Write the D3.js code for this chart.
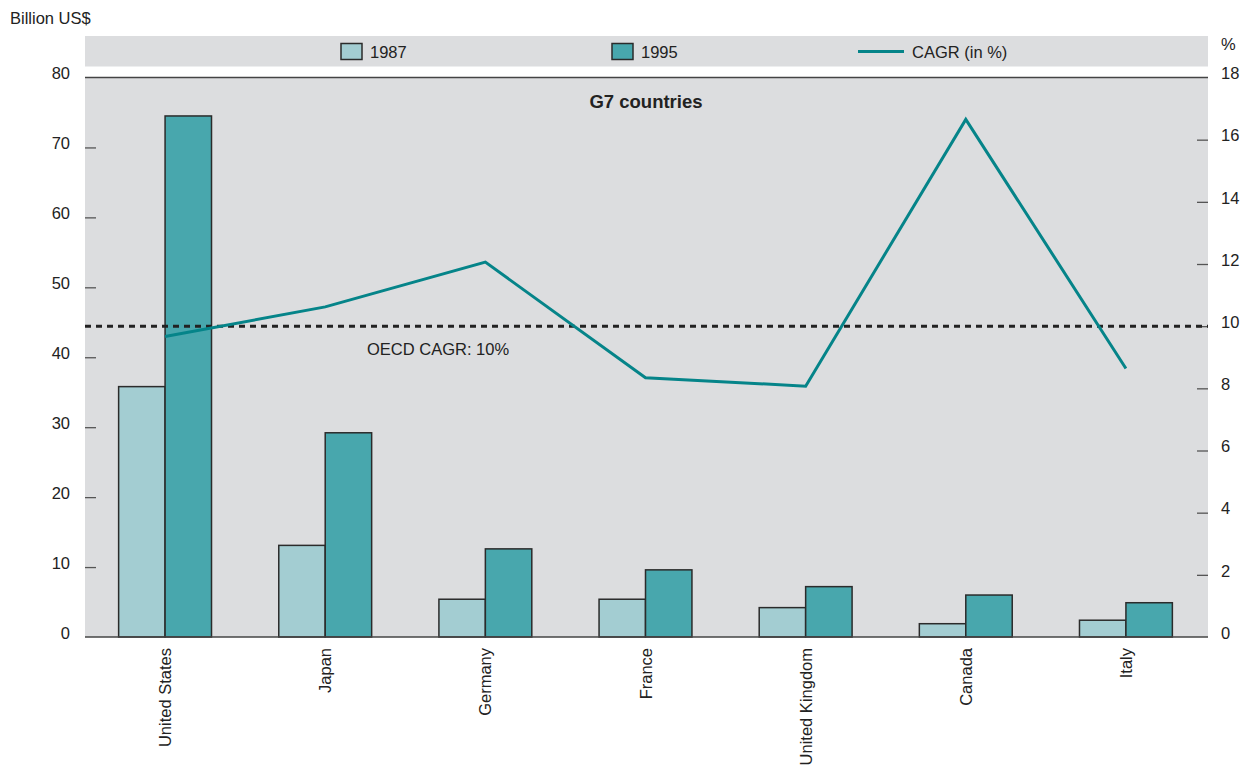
<!DOCTYPE html>
<html>
<head>
<meta charset="utf-8">
<script src="https://cdn.jsdelivr.net/npm/d3@7"></script>
<style>
  html, body { margin: 0; padding: 0; background: #ffffff; }
  svg { display: block; }
  text { font-family: "Liberation Sans", Arial, sans-serif; fill: #222; }
</style>
</head>
<body>
<svg id="chart" width="1255" height="773"></svg>
<script>
// G7 countries: value in billion US$ (1987, 1995) and compound annual growth rate (%)
const countries = ["United States", "Japan", "Germany", "France", "United Kingdom", "Canada", "Italy"];
const years = ["1987", "1995"];
const values1987 = [35.8, 13.1, 5.4, 5.4, 4.2, 1.9, 2.4];
const values1995 = [74.5, 29.2, 12.6, 9.6, 7.2, 6.0, 4.9];
const cagr = [9.67, 10.62, 12.06, 8.34, 8.07, 16.65, 8.64];
const oecdCagr = 10;
const leftTicks = [0, 10, 20, 30, 40, 50, 60, 70, 80];
const rightTicks = [0, 2, 4, 6, 8, 10, 12, 14, 16, 18];

const svg = d3.select("#chart");
const plotLeft = 85, plotRight = 1208, plotTop = 77.5, plotBottom = 637;
const fontSize = 16.5;

const barColor = { "1987": "#a3cdd2", "1995": "#48a7ad" };
const lineColor = "#058489";
const bg = "#dcdddf";

const x0 = d3.scaleBand().domain(countries).range([plotLeft, plotRight - 2]).paddingInner(0.42).paddingOuter(0.21);
const x1 = d3.scaleBand().domain(years).range([0, x0.bandwidth()]).padding(0);
const y = d3.scaleLinear().domain([0, 80]).range([plotBottom, plotTop]);
const y2 = d3.scaleLinear().domain([0, 18]).range([plotBottom, plotTop]);

// legend band and plot background
svg.append("rect").attr("x", plotLeft).attr("y", 36).attr("width", plotRight - plotLeft).attr("height", 30.5).attr("fill", bg);
svg.append("rect").attr("x", plotLeft).attr("y", plotTop).attr("width", plotRight - plotLeft).attr("height", plotBottom - plotTop).attr("fill", bg);

// unit labels
svg.append("text").attr("x", 10).attr("y", 24).style("font-size", fontSize + "px").text("Billion US$");
svg.append("text").attr("x", 1221).attr("y", 50).style("font-size", fontSize + "px").text("%");

// left axis labels
const axL = svg.append("g").attr("transform", `translate(${plotLeft},0)`)
  .call(d3.axisLeft(y).tickValues(leftTicks).tickSize(0).tickPadding(15).tickFormat(d3.format("d")));
axL.select(".domain").remove();
axL.selectAll("text").style("font-size", fontSize + "px").attr("fill", "#222");

// left inner tick marks
const tkL = svg.append("g").attr("transform", `translate(${plotLeft},0)`)
  .call(d3.axisRight(y).tickValues(leftTicks.slice(1, -1)).tickSize(11).tickFormat(""));
tkL.select(".domain").remove();
tkL.selectAll("line").attr("stroke", "#555").attr("stroke-width", 1.3);

// right axis labels
const axR = svg.append("g").attr("transform", `translate(${plotRight},0)`)
  .call(d3.axisRight(y2).tickValues(rightTicks).tickSize(0).tickPadding(13).tickFormat(d3.format("d")));
axR.select(".domain").remove();
axR.selectAll("text").style("font-size", fontSize + "px").attr("fill", "#222");

// right inner tick marks
const tkR = svg.append("g").attr("transform", `translate(${plotRight},0)`)
  .call(d3.axisLeft(y2).tickValues(rightTicks.slice(1, -1)).tickSize(11).tickFormat(""));
tkR.select(".domain").remove();
tkR.selectAll("line").attr("stroke", "#555").attr("stroke-width", 1.3);

// raise the axis labels slightly above their tick positions
svg.selectAll(".tick text").attr("y", -4.5).attr("dy", "0.35em");

// top rule
svg.append("line").attr("x1", plotLeft).attr("x2", plotRight).attr("y1", plotTop).attr("y2", plotTop)
  .attr("stroke", "#444").attr("stroke-width", 1.6);

// bars
const rows = countries.map((c, i) => ({ country: c, vals: [
  { year: "1987", v: values1987[i] }, { year: "1995", v: values1995[i] }] }));
const groups = svg.append("g").selectAll("g").data(rows).join("g")
  .attr("transform", d => `translate(${x0(d.country)},0)`);
groups.selectAll("rect").data(d => d.vals).join("rect")
  .attr("x", d => x1(d.year))
  .attr("y", d => y(d.v))
  .attr("width", x1.bandwidth())
  .attr("height", d => y(0) - y(d.v))
  .attr("fill", d => barColor[d.year])
  .attr("stroke", "#2b2b2b")
  .attr("stroke-width", 1.5);

// baseline
svg.append("line").attr("x1", plotLeft).attr("x2", plotRight).attr("y1", plotBottom).attr("y2", plotBottom)
  .attr("stroke", "#444").attr("stroke-width", 1.6);

// OECD reference line
svg.append("line").attr("x1", plotLeft).attr("x2", plotRight).attr("y1", y2(oecdCagr)).attr("y2", y2(oecdCagr))
  .attr("stroke", "#222").attr("stroke-width", 3).attr("stroke-dasharray", "6,5");
svg.append("text").attr("x", 367).attr("y", y2(oecdCagr) + 29).style("font-size", fontSize + "px")
  .attr("fill", "#333").text("OECD CAGR: 10%");

// CAGR line
const line = d3.line().x((d, i) => x0(countries[i]) + x0.bandwidth() / 2).y(d => y2(d));
svg.append("path").datum(cagr).attr("d", line).attr("fill", "none")
  .attr("stroke", lineColor).attr("stroke-width", 3).attr("stroke-linejoin", "miter");

// title inside plot
svg.append("text").attr("x", 646).attr("y", 108).attr("text-anchor", "middle")
  .style("font-size", "18.5px").style("font-weight", "bold").attr("fill", "#333").text("G7 countries");

// category labels, rotated
svg.append("g").selectAll("text").data(countries).join("text")
  .attr("transform", d => `translate(${x0(d) + x0.bandwidth() / 2 + 6},648) rotate(-90)`)
  .attr("text-anchor", "end")
  .style("font-size", fontSize + "px")
  .attr("fill", "#222")
  .text(d => d);

// legend
const legend = svg.append("g");
const legendItems = [
  { label: "1987", type: "box", color: barColor["1987"], x: 341 },
  { label: "1995", type: "box", color: barColor["1995"], x: 612 },
  { label: "CAGR (in %)", type: "line", color: lineColor, x: 858 }
];
legendItems.forEach(it => {
  if (it.type === "box") {
    legend.append("rect").attr("x", it.x).attr("y", 43.5).attr("width", 21).attr("height", 16)
      .attr("fill", it.color).attr("stroke", "#2b2b2b").attr("stroke-width", 1.5);
    legend.append("text").attr("x", it.x + 29).attr("y", 57.5).style("font-size", fontSize + "px").text(it.label);
  } else {
    legend.append("line").attr("x1", it.x).attr("x2", it.x + 46).attr("y1", 51.5).attr("y2", 51.5)
      .attr("stroke", it.color).attr("stroke-width", 3);
    legend.append("text").attr("x", it.x + 54).attr("y", 57.5).style("font-size", fontSize + "px").text(it.label);
  }
});
</script>
</body>
</html>
